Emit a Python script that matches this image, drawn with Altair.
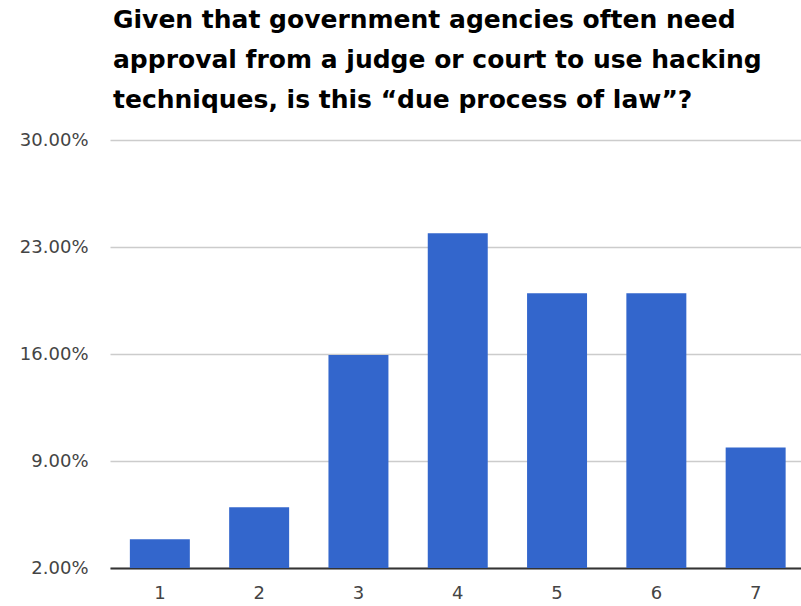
import altair as alt
import pandas as pd

categories = ["1", "2", "3", "4", "5", "6", "7"]
values = [3.88, 5.97, 15.93, 23.9, 19.97, 19.97, 9.88]
tick_values = [2, 9, 16, 23, 30]
title_lines = [
    "Given that government agencies often need",
    "approval from a judge or court to use hacking",
    "techniques, is this \u201cdue process of law\u201d?",
]

df = pd.DataFrame({"answer": categories, "pct": values})

chart = alt.Chart(df).mark_bar(color="#3366cc").encode(
    x=alt.X("answer:N", sort=categories, title=None,
            scale=alt.Scale(paddingInner=0.396, paddingOuter=0.2, range=[0, 695.5]),
            axis=alt.Axis(labelAngle=0, labelFontSize=18, labelColor="#444444",
                          labelFont="DejaVu Sans", labelPadding=16,
                          ticks=False, domainColor="#333333", domainWidth=2,
                          grid=False)),
    y=alt.Y("pct:Q", title=None,
            scale=alt.Scale(domain=[2, 30], zero=False, nice=False),
            axis=alt.Axis(values=tick_values,
                          labelExpr="format(datum.value, '.2f') + '%'",
                          labelFontSize=18, labelColor="#444444",
                          labelFont="DejaVu Sans", labelPadding=22,
                          ticks=False, domain=False, gridColor="#cccccc",
                          gridWidth=1.5)),
    y2=alt.datum(2),
).properties(
    width=691,
    height=428,
    title=alt.TitleParams(title_lines, anchor="start", frame="group",
                          font="DejaVu Sans", fontSize=25, fontWeight="bold",
                          color="#000000", lineHeight=40, offset=18, dx=3),
    autosize="none",
    padding={"left": 110, "top": 140, "right": 0, "bottom": 38},
).configure_view(stroke=None)

chart.save("out.html", embed_options={"renderer": "svg", "actions": False})
